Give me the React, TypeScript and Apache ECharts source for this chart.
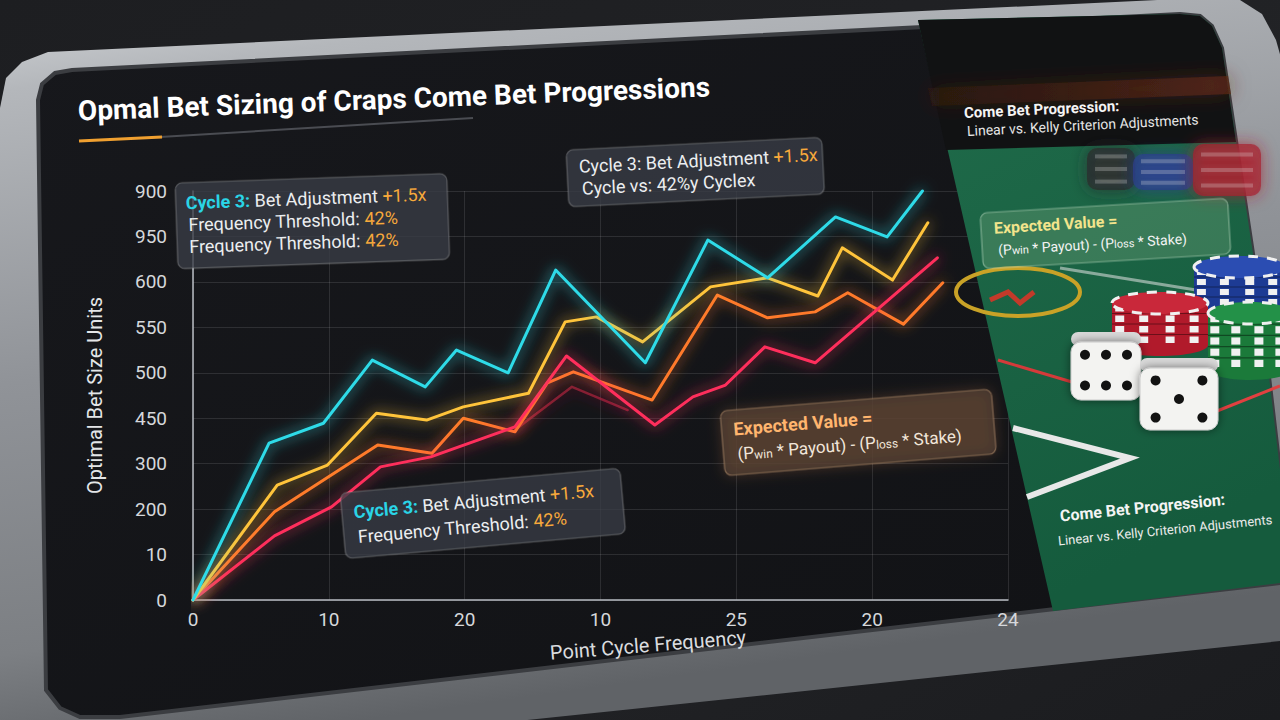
import React, { useEffect, useRef } from "react";
import * as echarts from "echarts";

// ---- data ----
const xTickLabels = ["0", "10", "20", "10", "25", "20", "24"];
const yTickLabels = ["0", "10", "200", "300", "450", "500", "550", "600", "950", "900"];

const cyanLine: [number, number][] = [
  [0, 0], [0.56, 345], [0.96, 389], [1.32, 528], [1.71, 469], [1.94, 550], [2.32, 500],
  [2.67, 726], [3.33, 522], [3.79, 792], [4.23, 709], [4.73, 843], [5.11, 799], [5.37, 900],
];
const yellowLine: [number, number][] = [
  [0, 0], [0.62, 253], [0.99, 297], [1.35, 411], [1.72, 396], [1.99, 425], [2.47, 455],
  [2.74, 612], [2.97, 623], [3.31, 568], [3.81, 689], [4.23, 709], [4.6, 669], [4.78, 775],
  [5.15, 704], [5.41, 830],
];
const orangeLine: [number, number][] = [
  [0, 0], [0.6, 194], [1.36, 341], [1.76, 323], [1.99, 400], [2.37, 370], [2.61, 478],
  [2.8, 502], [3.38, 440], [3.86, 671], [4.23, 621], [4.58, 634], [4.82, 676], [5.23, 607],
  [5.52, 698],
];
const redLine: [number, number][] = [
  [0, 0], [0.6, 141], [1.02, 205], [1.38, 293], [1.75, 315], [2.37, 381], [2.75, 537],
  [3.4, 385], [3.68, 447], [3.92, 473], [4.21, 557], [4.58, 522], [5.48, 753],
];
const darkRedLine: [number, number][] = [[2.37, 374], [2.79, 469], [3.2, 418]];

const FONT = "Roboto, 'Open Sans', sans-serif";

const annRich = (size: number) => ({
  c: { fill: "#2ad4e6", fontFamily: FONT, fontSize: size, fontWeight: "bold" },
  w: { fill: "#eceef0", fontFamily: FONT, fontSize: size },
  o: { fill: "#f7a93b", fontFamily: FONT, fontSize: size },
});

function annBox(
  x: number, y: number, w: number, h: number, rot: number,
  lines: { text: string; dx: number; dy: number }[], size: number, z: number,
  fill = "rgba(58,62,70,0.78)", stroke = "rgba(255,255,255,0.22)", rich: any = null, glow = "rgba(0,0,0,0)"
) {
  return {
    type: "group",
    x, y, rotation: rot,
    children: [
      {
        type: "rect", z,
        shape: { x: 0, y: 0, width: w, height: h, r: 7 },
        style: { fill, stroke, lineWidth: 1.2, shadowBlur: 14, shadowColor: glow },
      },
      ...lines.map((l) => ({
        type: "text", z: z + 0.5, x: l.dx, y: l.dy,
        style: { text: l.text, rich: rich || annRich(size), verticalAlign: "middle", fill: "#eee", fontSize: size, fontFamily: FONT },
      })),
    ],
  };
}

function chipStack(cx: number, top: number, rx: number, ry: number, h: number, body: string, face: string, count: number, z: number) {
  const els: any[] = [];
  els.push({ type: "ellipse", z, shape: { cx, cy: top + h, rx, ry }, style: { fill: body } });
  els.push({ type: "rect", z, shape: { x: cx - rx, y: top, width: 2 * rx, height: h }, style: { fill: body } });
  const step = h / count;
  for (let i = 0; i < count; i++) {
    for (const f of [-0.85, -0.35, 0.2, 0.7]) {
      els.push({ type: "rect", z: z + 0.01, shape: { x: cx + f * rx - 4, y: top + i * step + 2, width: 9, height: step - 4 }, style: { fill: "#f1f1f1" } });
    }
    if (i > 0) {
      els.push({ type: "line", z: z + 0.02, shape: { x1: cx - rx, y1: top + i * step, x2: cx + rx, y2: top + i * step }, style: { stroke: "rgba(0,0,0,0.4)", lineWidth: 1.2 } });
    }
  }
  els.push({ type: "ellipse", z: z + 0.03, shape: { cx, cy: top, rx, ry }, style: { fill: face, stroke: "#f0f0f0", lineWidth: 3, lineDash: [10, 9] } });
  return els;
}

function die(x: number, y: number, w: number, h: number, pips: [number, number][], z: number) {
  return [
    { type: "rect", z, shape: { x, y: y - 10, width: w, height: 14, r: 8 }, style: { fill: "#d9d9d9" } },
    { type: "rect", z: z + 0.01, shape: { x, y, width: w, height: h, r: 10 }, style: { fill: "#f3f3f1", stroke: "#c9c9c9", lineWidth: 1, shadowBlur: 10, shadowColor: "rgba(0,0,0,0.5)" } },
    ...pips.map(([fx, fy]) => ({ type: "circle", z: z + 0.02, shape: { cx: x + fx * w, cy: y + fy * h, r: 5 }, style: { fill: "#121212" } })),
  ];
}

function buildGraphics() {
  const els: any[] = [];
  // page background
  els.push({ type: "rect", z: -30, shape: { x: 0, y: 0, width: 1280, height: 720 },
    style: { fill: new echarts.graphic.LinearGradient(0, 0, 1, 1, [{ offset: 0, color: "#1d1e21" }, { offset: 0.6, color: "#222326" }, { offset: 1, color: "#1b1c1f" }]) } });
  // bezel
  els.push({ type: "polygon", z: -29, shape: { points: [[0, 108], [6, 78], [22, 62], [48, 52], [1200, -2], [1240, 0], [1262, 14], [1276, 40], [1290, 90], [1290, 640], [470, 726], [0, 726]] },
    style: { fill: new echarts.graphic.LinearGradient(0, 0, 0.25, 1, [{ offset: 0, color: "#d4d7da" }, { offset: 0.12, color: "#b4b7bb" }, { offset: 0.5, color: "#909398" }, { offset: 0.85, color: "#7c7f83" }, { offset: 1, color: "#606367" }]) } });
  // screen
  const screen = [[38, 100], [42, 84], [55, 73], [72, 70], [1180, 14], [1200, 16], [1212, 26], [1222, 48], [1260, 300], [1280, 470], [1280, 583], [120, 717], [80, 717], [60, 708], [46, 690]];
  els.push({ type: "polygon", z: -28, shape: { points: screen },
    style: { fill: new echarts.graphic.LinearGradient(0, 0, 1, 1, [{ offset: 0, color: "#17181c" }, { offset: 1, color: "#111215" }]), stroke: "#3b3d41", lineWidth: 4 } });
  // green felt panel
  els.push({ type: "polygon", z: 1, shape: { points: [[918, 20], [1180, 14], [1200, 16], [1212, 26], [1222, 48], [1260, 300], [1280, 470], [1280, 583], [1053, 611]] },
    style: { fill: new echarts.graphic.LinearGradient(0, 0, 0.3, 1, [{ offset: 0, color: "#206c4b" }, { offset: 1, color: "#155b3d" }]) } });
  // table rail
  els.push({ type: "polygon", z: 1.1, shape: { points: [[918, 20], [1180, 14], [1200, 16], [1212, 26], [1222, 48], [1236, 142], [946, 150]] },
    style: { fill: "#111213" } });
  els.push({ type: "polygon", z: 1.2, shape: { points: [[928, 88], [1228, 76], [1231, 94], [932, 106]] },
    style: { fill: new echarts.graphic.LinearGradient(0, 0, 1, 0, [{ offset: 0, color: "rgba(60,28,16,0.35)" }, { offset: 1, color: "rgba(95,42,22,0.7)" }]), shadowBlur: 20, shadowColor: "rgba(90,40,20,0.8)" } });
  // blurred chips in background
  const blurChip = (x: number, y: number, w: number, h: number, c: string) => [
    { type: "rect", z: 1.3, shape: { x, y, width: w, height: h, r: 10 }, style: { fill: c, opacity: 0.7, shadowBlur: 16, shadowColor: c } },
    ...[0.2, 0.5, 0.8].map((f) => ({ type: "rect", z: 1.31, shape: { x: x + 8, y: y + f * h - 2, width: w - 16, height: 4 }, style: { fill: "rgba(225,225,225,0.25)", shadowBlur: 6, shadowColor: "rgba(225,225,225,0.4)" } })),
  ];
  els.push(...blurChip(1087, 148, 48, 42, "#2c2c2e"));
  els.push(...blurChip(1133, 154, 60, 36, "#2a3f8e"));
  els.push(...blurChip(1193, 144, 68, 52, "#a82330"));
  // table markings
  els.push({ type: "ellipse", z: 1.4, shape: { cx: 1018, cy: 292, rx: 62, ry: 24 }, style: { fill: "none", stroke: "#c9a227", lineWidth: 4 } });
  els.push({ type: "polyline", z: 1.41, shape: { points: [[990, 300], [1008, 292], [1020, 303], [1034, 292]] }, style: { stroke: "#c23a2a", lineWidth: 5 } });
  els.push({ type: "line", z: 1.41, shape: { x1: 1060, y1: 268, x2: 1196, y2: 290 }, style: { stroke: "rgba(230,230,230,0.55)", lineWidth: 3 } });
  els.push({ type: "line", z: 1.41, shape: { x1: 998, y1: 360, x2: 1072, y2: 382 }, style: { stroke: "#d43a3a", lineWidth: 3 } });
  els.push({ type: "line", z: 1.41, shape: { x1: 1212, y1: 413, x2: 1280, y2: 386 }, style: { stroke: "#e04040", lineWidth: 3 } });
  els.push({ type: "polyline", z: 1.41, shape: { points: [[1013, 428], [1130, 458], [1027, 497]] }, style: { stroke: "#e8e8e8", lineWidth: 6 } });
  // chip stacks
  els.push(...chipStack(1240, 267, 46, 11, 40, "#1d3b94", "#2b4db2", 4, 1.5));
  els.push(...chipStack(1160, 303, 48, 11, 42, "#b11a2b", "#c9283a", 4, 1.6));
  els.push(...chipStack(1250, 313, 42, 11, 56, "#1b7a3a", "#239148", 5, 1.7));
  // dice
  els.push(...die(1071, 342, 70, 58, [[0.2, 0.22], [0.5, 0.22], [0.8, 0.22], [0.2, 0.75], [0.5, 0.75], [0.8, 0.75]], 1.8));
  els.push(...die(1140, 368, 78, 62, [[0.2, 0.2], [0.8, 0.2], [0.5, 0.5], [0.2, 0.8], [0.8, 0.8]], 1.9));

  // right panel texts
  els.push({ type: "text", z: 3, x: 964, y: 113, rotation: 0.045, style: { text: "Come Bet Progression:", fill: "#f4f4f4", fontSize: 15, fontWeight: "bold", fontFamily: FONT, verticalAlign: "middle" } });
  els.push({ type: "text", z: 3, x: 967, y: 131, rotation: 0.05, style: { text: "Linear vs. Kelly Criterion Adjustments", fill: "#e6e6e6", fontSize: 14, fontFamily: FONT, verticalAlign: "middle" } });
  els.push(annBox(980, 213, 248, 56, 0.06, [
    { text: "{y|Expected Value =}", dx: 13, dy: 16 },
    { text: "{w|(P}{s|win}{w| * Payout) - (P}{s|loss}{w| * Stake)}", dx: 16, dy: 38 },
  ], 15, 3, "rgba(120,170,130,0.32)", "rgba(215,240,215,0.45)", {
    y: { fill: "#f2e48c", fontFamily: FONT, fontSize: 16, fontWeight: "bold" },
    w: { fill: "#f4f4f4", fontFamily: FONT, fontSize: 14 },
    s: { fill: "#f4f4f4", fontFamily: FONT, fontSize: 11, verticalAlign: "bottom" },
  }));
  els.push({ type: "text", z: 3, x: 1060, y: 516, rotation: 0.1, style: { text: "Come Bet Progression:", fill: "#f4f4f4", fontSize: 16, fontWeight: "bold", fontFamily: FONT, verticalAlign: "middle" } });
  els.push({ type: "text", z: 3, x: 1058, y: 541, rotation: 0.1, style: { text: "Linear vs. Kelly Criterion Adjustments", fill: "#ececec", fontSize: 13, fontFamily: FONT, verticalAlign: "middle" } });

  // title + underline
  els.push({ type: "text", z: 3, x: 78, y: 111, rotation: 0.038, style: { text: "Opmal Bet Sizing of Craps Come Bet Progressions", fill: "#ffffff", fontSize: 28, fontWeight: "bold", fontFamily: FONT, verticalAlign: "middle" } });
  els.push({ type: "line", z: 3, shape: { x1: 160, y1: 137, x2: 473, y2: 118 }, style: { stroke: "#4a4c52", lineWidth: 2 } });
  els.push({ type: "line", z: 3, shape: { x1: 79, y1: 141, x2: 162, y2: 137 }, style: { stroke: "#f0a030", lineWidth: 3 } });

  // x axis name
  els.push({ type: "text", z: 3, x: 648, y: 645, rotation: 0.08, style: { text: "Point Cycle Frequency", fill: "#dadcdf", fontSize: 20, fontFamily: FONT, align: "center", verticalAlign: "middle" } });

  // annotation boxes on chart
  els.push(annBox(175, 183, 272, 86, 0.035, [
    { text: "{c|Cycle 3:}{w| Bet Adjustment }{o|+1.5x}", dx: 10, dy: 20 },
    { text: "{w|Frequency Threshold: }{o|42%}", dx: 12, dy: 42 },
    { text: "{w|Frequency Threshold: }{o|42%}", dx: 12, dy: 64 },
  ], 18, 10));
  els.push(annBox(566, 150, 256, 57, 0.05, [
    { text: "{w|Cycle 3: Bet Adjustment }{o|+1.5x}", dx: 12, dy: 17 },
    { text: "{w|Cycle vs: 42%y Cyclex}", dx: 14, dy: 39 },
  ], 18, 10));
  els.push(annBox(340, 493, 281, 66, 0.089, [
    { text: "{c|Cycle 3:}{w| Bet Adjustment }{o|+1.5x}", dx: 12, dy: 20 },
    { text: "{w|Frequency Threshold: }{o|42%}", dx: 14, dy: 45 },
  ], 18, 10));
  els.push(annBox(720, 411, 272, 65, 0.081, [
    { text: "{y|Expected Value =}", dx: 12, dy: 19 },
    { text: "{w|(P}{s|win}{w| * Payout) - (P}{s|loss}{w| * Stake)}", dx: 14, dy: 44 },
  ], 17, 10, "rgba(72,58,50,0.82)", "rgba(255,200,150,0.35)", {
    y: { fill: "#ffb56e", fontFamily: FONT, fontSize: 18, fontWeight: "bold" },
    w: { fill: "#f2e6da", fontFamily: FONT, fontSize: 17 },
    s: { fill: "#f2e6da", fontFamily: FONT, fontSize: 12, verticalAlign: "bottom" },
  }, "rgba(255,150,80,0.25)"));
  return els;
}

function lineSeries(name: string, data: [number, number][], color: string, z: number, width = 3, opacity = 1) {
  return {
    name, type: "line", data, z, clip: false, showSymbol: false, symbol: "none",
    lineStyle: { color, width, opacity, shadowBlur: 14, shadowColor: color, cap: "round", join: "round" },
  };
}

export default function App() {
  const ref = useRef<HTMLDivElement>(null);
  useEffect(() => {
    if (!ref.current) return;
    const chart = echarts.init(ref.current, null, { renderer: "svg" });
    chart.setOption({
      animation: false,
      backgroundColor: "#1f2023",
      graphic: { elements: buildGraphics() },
      grid: { left: 193, top: 191, width: 815, height: 409 },
      xAxis: {
        type: "value", min: 0, max: 6, interval: 1,
        axisLine: { show: true, lineStyle: { color: "#b9bdc3", width: 1.5 } },
        axisTick: { show: false },
        axisLabel: { color: "#d6d8db", fontSize: 19, fontFamily: FONT, margin: 10, formatter: (v: number) => xTickLabels[Math.round(v)] ?? "" },
        splitLine: { show: true, lineStyle: { color: "rgba(255,255,255,0.11)", width: 1 } },
      },
      yAxis: {
        type: "value", min: 0, max: 900, interval: 100,
        name: "Optimal Bet Size Units", nameLocation: "middle", nameGap: 88, nameRotate: 90,
        nameTextStyle: { color: "#e4e6e8", fontSize: 20, fontFamily: FONT },
        axisLine: { show: true, lineStyle: { color: "#b9bdc3", width: 1.5 } },
        axisTick: { show: false },
        axisLabel: { color: "#d6d8db", fontSize: 19, fontFamily: FONT, margin: 26, formatter: (v: number) => yTickLabels[Math.round(v / 100)] ?? "" },
        splitLine: { show: true, lineStyle: { color: "rgba(255,255,255,0.11)", width: 1 } },
      },
      series: [
        lineSeries("Kelly Drawdown", darkRedLine, "#a4213c", 2, 2.5, 0.75),
        lineSeries("Fractional Kelly", orangeLine, "#ff7a2c", 3),
        lineSeries("Linear Progression", redLine, "#ff2f5c", 4),
        lineSeries("Half Kelly", yellowLine, "#ffc43a", 5),
        lineSeries("Full Kelly", cyanLine, "#2fdbe8", 6),
      ],
    });
    return () => chart.dispose();
  }, []);
  return <div ref={ref} style={{ position: "fixed", left: 0, top: 0, width: 1280, height: 720 }} />;
}
